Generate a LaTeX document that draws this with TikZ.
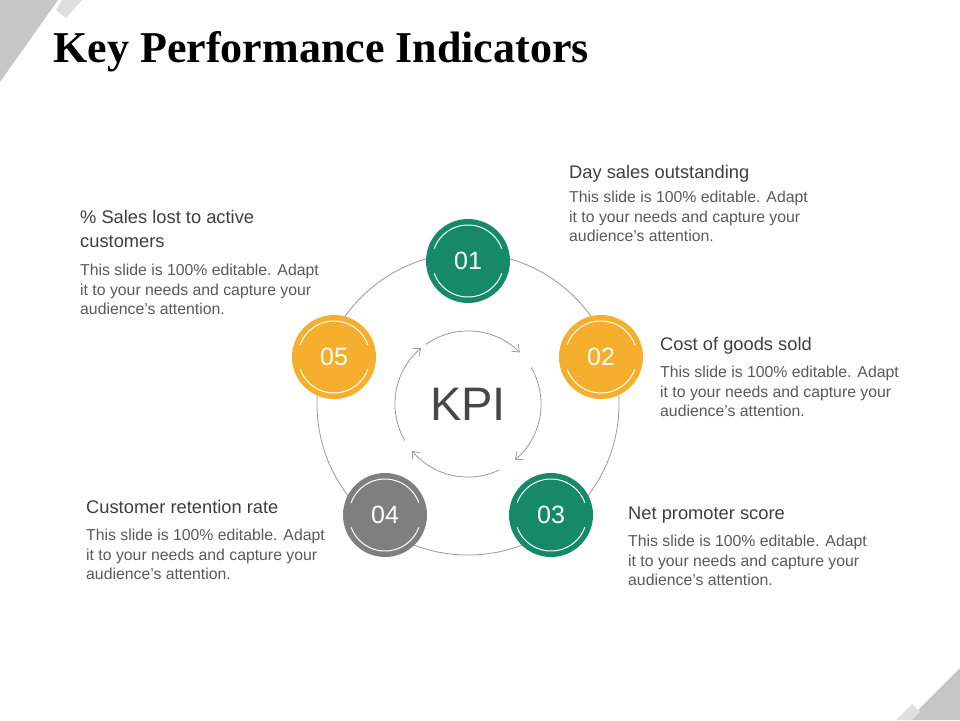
\documentclass[tikz,border=0pt]{standalone}
\usepackage{fontspec}
\setmainfont{Liberation Sans}
\newfontfamily\titlefont{Liberation Serif}
\usetikzlibrary{arrows.meta}
\definecolor{kgreen}{HTML}{168A68}
\definecolor{korange}{HTML}{F6AE2D}
\definecolor{kgray}{HTML}{7F7F7F}
\definecolor{ktext}{HTML}{595959}
\tikzset{
  kpinum/.style={circle, minimum size=84pt, inner sep=0pt, text=white, font=\fontsize{25}{25}\selectfont},
  kpihead/.style={anchor=north west, align=left, text=ktext!70!black, font=\fontsize{18.3}{24}\selectfont, inner sep=0pt},
  kpibody/.style={anchor=north west, align=left, text=ktext, font=\fontsize{15.8}{19.5}\selectfont, inner sep=0pt},
}
\begin{document}
\begin{tikzpicture}[x=1pt,y=-1pt]
		\useasboundingbox (0,0) rectangle (960,720);
		% corners
		\fill[gray!45] (0,0) -- (58,0) -- (0,82) -- cycle;
		\fill[gray!25] (62,0) -- (82,0) -- (66,18) -- (56,10) -- cycle;
		\fill[gray!45] (960,720) -- (908,720) -- (960,668) -- cycle;
		\fill[gray!25] (896,720) -- (912,704) -- (920,712) -- (912,720) -- cycle;
		\node[anchor=west, font=\titlefont\bfseries\fontsize{44}{44}\selectfont] (title) at (50,52) {Key Performance Indicators};
		%
		\coordinate (c) at (468,404);
		\draw[gray!80, line width=0.8pt] (c) circle[radius=151];
		\node[text=ktext!80!black, font=\fontsize{47}{47}\selectfont] (kpi) at (c) {KPI};
		\foreach \a/\b in {-125/-45, -30/50, 65/140, 150/230}
			\draw[gray!80, line width=0.8pt, -{Straight Barb[length=6pt,width=10pt]}] (c) ++(\a:73) arc[start angle=\a, end angle=\b, radius=73];
		%
		\node[kpinum, fill=kgreen] (n1) at (468,261) {01};
		\node[kpinum, fill=korange] (n2) at (601,357) {02};
		\node[kpinum, fill=kgreen] (n3) at (551,515) {03};
		\node[kpinum, fill=kgray] (n4) at (385,515) {04};
		\node[kpinum, fill=korange] (n5) at (334,357) {05};
		\foreach \n in {n1,n2,n3,n4,n5} {
			\draw[white, line width=1pt] (\n) ++(-160:36) arc[start angle=-160, end angle=-20, radius=36];
			\draw[white, line width=1pt] (\n) ++(20:36) arc[start angle=20, end angle=160, radius=36];
		}
		%
		\node[kpihead] (h1) at (569,165) {Day sales outstanding};
		\node[kpibody] (b1) at (569,191) {This slide is 100\% editable. Adapt\\it to your needs and capture your\\audience's attention.};
		\node[kpihead] (h2) at (660,337) {Cost of goods sold};
		\node[kpibody] (b2) at (660,366) {This slide is 100\% editable. Adapt\\it to your needs and capture your\\audience's attention.};
		\node[kpihead] (h3) at (628,507) {Net promoter score};
		\node[kpibody] (b3) at (628,535) {This slide is 100\% editable. Adapt\\it to your needs and capture your\\audience's attention.};
		\node[kpihead] (h4) at (86,500) {Customer retention rate};
		\node[kpibody] (b4) at (86,529) {This slide is 100\% editable. Adapt\\it to your needs and capture your\\audience's attention.};
		\node[kpihead] (h5) at (80,210) {\% Sales lost to active\\customers};
		\node[kpibody] (b5) at (80,264) {This slide is 100\% editable. Adapt\\it to your needs and capture your\\audience's attention.};
	\end{tikzpicture}
\end{document}
